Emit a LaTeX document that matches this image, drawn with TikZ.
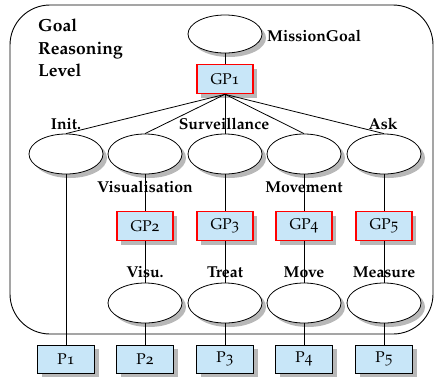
\documentclass[tikz,border=0pt]{standalone}
\usepackage[T1]{fontenc}
\usepackage[osf]{mathpazo}
\usetikzlibrary{shapes.geometric,shadows}
\definecolor{skyblue}{HTML}{C8E6F8}
\begin{document}
\begin{tikzpicture}[x=1pt,y=-1pt,
  sh/.style={drop shadow={shadow xshift=4pt,shadow yshift=-4pt,fill=black!28,opacity=1}},
  goal/.style={ellipse,draw,line width=0.8pt,fill=white,minimum width=74pt,minimum height=40pt,inner sep=0pt,sh},
  gp/.style={rectangle,draw=red,line width=1.6pt,fill=skyblue,minimum width=56pt,minimum height=29pt,inner sep=0pt,sh,font=\fontsize{15.5}{18}\selectfont},
  pbox/.style={rectangle,draw,line width=0.8pt,fill=skyblue,minimum width=57pt,minimum height=28pt,inner sep=0pt,sh,font=\fontsize{15.5}{18}\selectfont},
  lbl/.style={font=\bfseries\fontsize{15.8}{18}\selectfont,inner sep=0pt},
  conn/.style={draw,line width=0.8pt}
]
\useasboundingbox (0,0) rectangle (435,381);
\draw[line width=0.9pt,rounded corners=40pt] (10,5) rectangle (433,334);
\node[align=left,anchor=north west,inner sep=0pt,font=\bfseries\fontsize{17.5}{22.5}\selectfont] (title) at (38,19) {Goal\\Reasoning\\Level};
% mission goal
\node[goal,minimum height=38pt] (mg) at (225,34) {};
\node[lbl,anchor=west] (mgl) at (267,36) {MissionGoal};
\node[gp] (gp1) at (225,79) {GP1};
% row 1
\node[goal] (e1) at (66,154) {};
\node[goal] (e2) at (145,154) {};
\node[goal] (e3) at (225,154) {};
\node[goal] (e4) at (304,154) {};
\node[goal] (e5) at (384,154) {};
\node[lbl] (l1) at (66,124) {Init.};
\node[lbl] (l3) at (224,124) {Surveillance};
\node[lbl] (l5) at (383,124) {Ask};
\node[lbl] (l2) at (145,187) {Visualisation};
\node[lbl] (l4) at (304,187) {Movement};
% row 2 boxes
\node[gp] (gp2) at (145,226) {GP2};
\node[gp] (gp3) at (225,226) {GP3};
\node[gp] (gp4) at (304,226) {GP4};
\node[gp] (gp5) at (384,226) {GP5};
\node[lbl] (m2) at (145,272) {Visu.};
\node[lbl] (m3) at (225,272) {Treat};
\node[lbl] (m4) at (304,272) {Move};
\node[lbl] (m5) at (384,272) {Measure};
% row 3
\node[goal] (f2) at (145,303) {};
\node[goal] (f3) at (225,303) {};
\node[goal] (f4) at (304,303) {};
\node[goal] (f5) at (384,303) {};
% P boxes
\node[pbox] (p1) at (66,359) {P1};
\node[pbox] (p2) at (145,359) {P2};
\node[pbox] (p3) at (225,359) {P3};
\node[pbox] (p4) at (304,359) {P4};
\node[pbox] (p5) at (384,359) {P5};
% connectors
\draw[conn] (mg.south) -- (gp1.north);
\foreach \e in {e1,e2,e3,e4,e5} \draw[conn] (gp1.south) -- (\e.north);
\draw[conn] (e1.south) -- (p1.north);
\foreach \i in {2,3,4,5} {
  \draw[conn] (e\i.south) -- (gp\i.north);
  \draw[conn] (gp\i.south) -- (f\i.north);
  \draw[conn] (f\i.south) -- (p\i.north);
}
\end{tikzpicture}
\end{document}
